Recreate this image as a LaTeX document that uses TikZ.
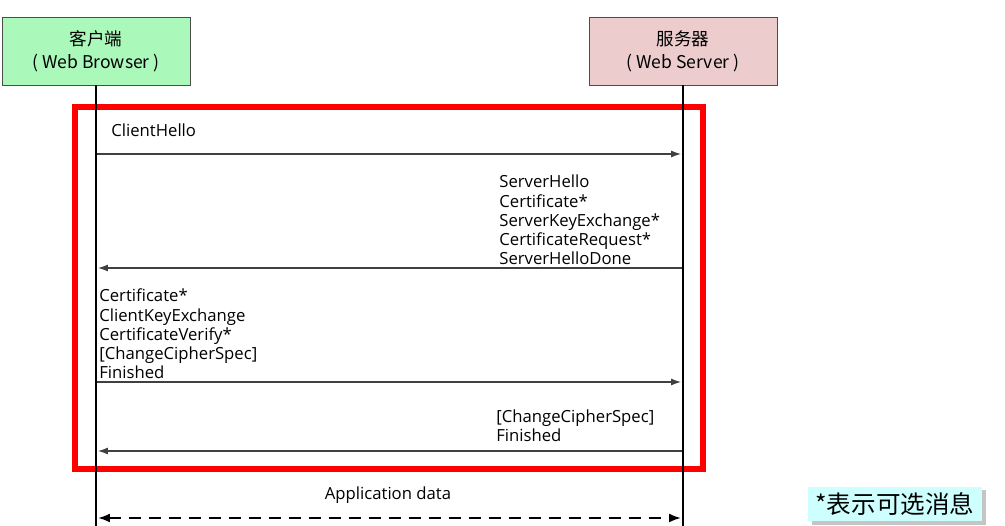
\documentclass[tikz,border=0pt]{standalone}
\usepackage{fontspec}
\setmainfont{Open Sans}
\newfontfamily\cjk{Noto Sans CJK SC}
\usetikzlibrary{shadows,arrows.meta}
\definecolor{clientgreen}{RGB}{170,248,186}
\definecolor{serverpink}{RGB}{236,204,204}
\definecolor{notecyan}{RGB}{206,255,255}
\begin{document}
\begin{tikzpicture}[x=0.02cm, y=-0.02cm,
	entity/.style={rectangle, draw=black!70, text centered, align=center, minimum width=3.76cm,
		minimum height=1.36cm, inner sep=0pt, font=\cjk\fontsize{10}{13}\selectfont},
	lifeline/.style={line width=1.7pt},
	msg/.style={draw=black!75, line width=0.6pt, -{Latex[length=0.2cm, width=0.14cm]}},
	msgtext/.style={inner sep=0pt, align=left, font=\fontsize{9.5}{10.9}\selectfont}]
	
	\useasboundingbox (0,0) rectangle (1005,526);
	
	%Handshake frame
	\draw[red, line width=3.4pt] (75,107) rectangle (703,469);
	
	%Entities
	\node (client) at (96,51) [entity, fill=clientgreen]{客户端\\( Web Browser )};
	\node (server) at (683,51) [entity, fill=serverpink]{服务器\\( Web Server )};
	
	%Lifelines
	\coordinate (clientend) at (96,526);
	\coordinate (serverend) at (683,526);
	\draw[lifeline] (client.south) -- (clientend);
	\draw[lifeline] (server.south) -- (serverend);
	
	%Messages
	\coordinate (c1) at (97,154);
	\coordinate (s1) at (681,154);
	\node (hello) at (111,137) [msgtext, anchor=base west]{ClientHello};
	\draw[msg] (c1) -- (s1);
	
	\coordinate (s2) at (682,268);
	\coordinate (c2) at (98,268);
	\node (serverhello) at (499,265) [msgtext, anchor=south west]{ServerHello\\Certificate*\\ServerKeyExchange*\\CertificateRequest*\\ServerHelloDone};
	\draw[msg] (s2) -- (c2);
	
	\coordinate (c3) at (97,382);
	\coordinate (s3) at (681,382);
	\node (keyexchange) at (99,379) [msgtext, anchor=south west]{Certificate*\\ClientKeyExchange\\CertificateVerify*\\{[ChangeCipherSpec]}\\Finished};
	\draw[msg] (c3) -- (s3);
	
	\coordinate (s4) at (682,451);
	\coordinate (c4) at (98,451);
	\node (finished) at (496,442) [msgtext, anchor=south west]{{[ChangeCipherSpec]}\\Finished};
	\draw[msg] (s4) -- (c4);
	
	%Application data
	\coordinate (c5) at (98,518);
	\coordinate (s5) at (681,518);
	\node (appdata) at (388,500) [msgtext, anchor=base]{Application data};
	\draw[{Latex[length=0.24cm, width=0.18cm]}-{Latex[length=0.24cm, width=0.18cm]}, line width=1.1pt,
	dash pattern=on 0.24cm off 0.16cm] (c5) -- (s5);
	
	%Note
	\node (note) at (895,504) [rectangle, fill=notecyan, minimum width=3.48cm, minimum height=0.68cm,
	drop shadow={shadow xshift=2pt, shadow yshift=-2pt, fill=black!45}, font=\cjk\fontsize{14}{16}\selectfont]{*表示可选消息};
	
\end{tikzpicture}
\end{document}
